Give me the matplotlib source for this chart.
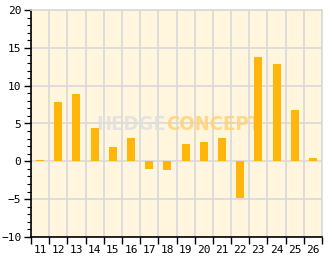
import matplotlib
matplotlib.use("Agg")
import matplotlib.pyplot as plt
import numpy as np

weeks = ["11", "12", "13", "14", "15", "16", "17", "18", "19", "20", "21", "22", "23", "24", "25", "26"]
values = [0.2, 7.9, 8.9, 4.4, 1.9, 3.1, -1.0, -1.1, 2.3, 2.6, 3.1, -4.8, 13.8, 12.9, 6.8, 0.45]

bg = "#fff6dd"
bar_color = "#ffb50a"
grid_color = "#d9d9d9"

fig = plt.figure(figsize=(3.32, 2.69), dpi=100)
ax = fig.add_axes([31 / 332, 1 - 237 / 269, 291 / 332, 227 / 269])
ax.set_facecolor(bg)

x = np.arange(len(weeks))
ax.bar(x, values, width=0.44, color=bar_color, zorder=3)

ax.set_xlim(-0.5, len(weeks) - 0.5)
ax.set_ylim(-10, 20)

# grid: horizontal every 5, vertical at category boundaries
ax.set_yticks(np.arange(-10, 21, 5))
ax.set_yticks(np.arange(-10, 21, 1), minor=True)
ax.set_xticks(np.arange(-0.5, len(weeks), 1))
ax.set_xticks(x, minor=True)
ax.set_xticklabels([])
ax.set_xticklabels(weeks, minor=True)
ax.grid(True, which="major", color=grid_color, linewidth=1.2, zorder=1)

ax.tick_params(axis="y", which="major", direction="out", length=5, width=1, labelsize=8, pad=2)
ax.tick_params(axis="y", which="minor", direction="out", length=3, width=0.8)
ax.tick_params(axis="x", which="major", direction="out", length=5, width=1)
ax.tick_params(axis="x", which="minor", length=0, labelsize=8, pad=6)
for lab in ax.get_xticklabels(minor=True) + ax.get_yticklabels():
    lab.set_family("DejaVu Sans Mono")

ax.spines["left"].set_color("black")
ax.spines["bottom"].set_color("black")
ax.spines["top"].set_color(grid_color)
ax.spines["right"].set_color(grid_color)
for s in ax.spines.values():
    s.set_linewidth(1.2)

# watermark
wm = dict(transform=ax.transAxes, va="center", fontsize=14.5, fontweight="heavy",
          fontstretch="condensed", family="DejaVu Sans", alpha=0.85, zorder=2)
ax.text(0.465, 0.495, "HEDGE", ha="right", color="#e0e0e0", **wm)
ax.text(0.465, 0.495, "CONCEPT", ha="left", color="#ffd27a", **wm)

fig.savefig("out.png", dpi=100, facecolor="white")
